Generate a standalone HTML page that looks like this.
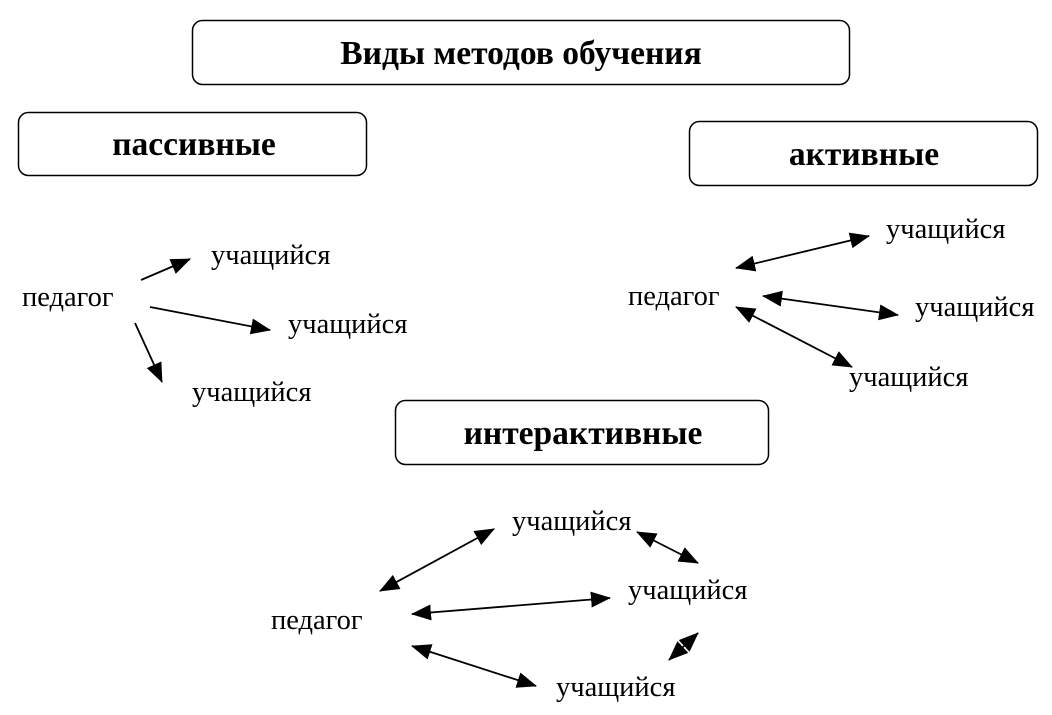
<!DOCTYPE html>
<html><head><meta charset="utf-8"><style>
html,body{margin:0;padding:0;background:#fff;}
svg{display:block;}
text{font-family:"Liberation Serif",serif;fill:#000;}
.b{font-weight:bold;font-size:33.5px;}
.t{font-size:28.5px;}
</style></head><body>
<svg width="1052" height="715" viewBox="0 0 1052 715" xmlns="http://www.w3.org/2000/svg">
<defs>
<marker id="h" markerWidth="20" markerHeight="16" refX="19" refY="8" orient="auto-start-reverse" markerUnits="userSpaceOnUse"><path d="M0,0 L20,8 L0,16 z" fill="#000"/></marker>
</defs>
<g fill="none" stroke="#000" stroke-width="1.5">
<rect x="192.5" y="20.5" width="657" height="64" rx="10"/>
<rect x="18.5" y="112.5" width="348" height="63" rx="10"/>
<rect x="689.5" y="121.5" width="348" height="64" rx="10"/>
<rect x="395.5" y="400.5" width="373" height="64" rx="10"/>
</g>
<text class="b" x="521" y="64" text-anchor="middle">Виды методов обучения</text>
<text class="b" x="194" y="155" text-anchor="middle">пассивные</text>
<text class="b" x="864" y="165" text-anchor="middle">активные</text>
<text class="b" x="583" y="444" text-anchor="middle">интерактивные</text>

<text class="t" x="211" y="264">учащийся</text>
<text class="t" x="22" y="306">педагог</text>
<text class="t" x="288" y="333">учащийся</text>
<text class="t" x="192" y="401">учащийся</text>

<text class="t" x="886" y="238">учащийся</text>
<text class="t" x="628" y="305">педагог</text>
<text class="t" x="915" y="316">учащийся</text>
<text class="t" x="849" y="386">учащийся</text>

<text class="t" x="512" y="530">учащийся</text>
<text class="t" x="628" y="599">учащийся</text>
<text class="t" x="271" y="629">педагог</text>
<text class="t" x="556" y="696">учащийся</text>

<g stroke="#000" stroke-width="1.8" fill="none">
<line x1="141" y1="280" x2="190" y2="259" marker-end="url(#h)"/>
<line x1="150" y1="307" x2="270" y2="330" marker-end="url(#h)"/>
<line x1="135" y1="323" x2="162" y2="382" marker-end="url(#h)"/>

<line x1="736" y1="268" x2="869" y2="236" marker-start="url(#h)" marker-end="url(#h)"/>
<line x1="763" y1="296" x2="898" y2="315" marker-start="url(#h)" marker-end="url(#h)"/>
<line x1="736" y1="307" x2="852" y2="367" marker-start="url(#h)" marker-end="url(#h)"/>

<line x1="380" y1="591" x2="494" y2="529" marker-start="url(#h)" marker-end="url(#h)"/>
<line x1="412" y1="614" x2="610" y2="598" marker-start="url(#h)" marker-end="url(#h)"/>
<line x1="412" y1="646" x2="536" y2="686" marker-start="url(#h)" marker-end="url(#h)"/>
<line x1="637" y1="532" x2="698" y2="563" marker-start="url(#h)" marker-end="url(#h)"/>
<line x1="669" y1="660" x2="698" y2="633" marker-start="url(#h)" marker-end="url(#h)"/>
</g>
</svg>
</body></html>
